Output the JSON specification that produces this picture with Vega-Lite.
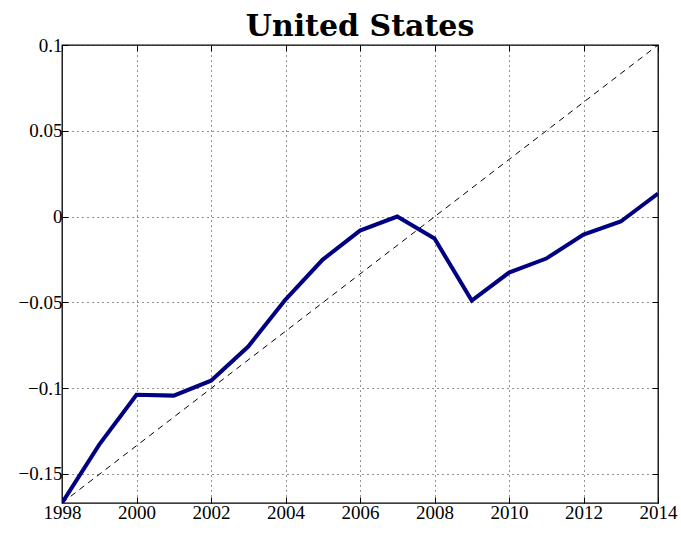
{
  "$schema": "https://vega.github.io/schema/vega-lite/v6.json",
  "width": 596,
  "height": 458,
  "autosize": {"type": "none"},
  "padding": {"left": 62, "top": 45, "right": 23, "bottom": 30},
  "background": "white",
  "title": {"text": "United States", "font": "DejaVu Serif", "fontSize": 30, "fontWeight": "bold", "color": "black", "offset": -6, "anchor": "middle"},
  "config": {
    "view": {"stroke": "black", "strokeWidth": 1.3},
    "axis": {"labelFont": "Liberation Serif", "labelFontSize": 19, "labelColor": "black", "tickColor": "black", "domain": false, "grid": true, "gridColor": "#222", "gridDash": [1, 4], "gridWidth": 1, "tickSize": -6, "tickWidth": 1, "title": null}
  },
  "datasets": {
    "series": [
      {"year": 1998, "value": -0.167},
      {"year": 1999, "value": -0.133},
      {"year": 2000, "value": -0.1039},
      {"year": 2001, "value": -0.1044},
      {"year": 2002, "value": -0.0957},
      {"year": 2003, "value": -0.0758},
      {"year": 2004, "value": -0.0484},
      {"year": 2005, "value": -0.0251},
      {"year": 2006, "value": -0.0082},
      {"year": 2007, "value": 0.0},
      {"year": 2008, "value": -0.0128},
      {"year": 2009, "value": -0.049},
      {"year": 2010, "value": -0.0327},
      {"year": 2011, "value": -0.0245},
      {"year": 2012, "value": -0.0105},
      {"year": 2013, "value": -0.0029},
      {"year": 2014, "value": 0.0134}
    ],
    "trend": [
      {"year": 1998, "value": -0.167},
      {"year": 2014, "value": 0.1}
    ]
  },
  "layer": [
    {
      "data": {"name": "trend"},
      "mark": {"type": "line", "color": "black", "strokeWidth": 1, "strokeDash": [6, 5], "clip": true},
      "encoding": {
        "x": {"field": "year", "type": "quantitative", "scale": {"domain": [1998, 2014], "nice": false, "zero": false},
              "axis": {"orient": "bottom", "values": [1998, 2000, 2002, 2004, 2006, 2008, 2010, 2012, 2014], "format": "d", "labelPadding": 6, "labelFlush": false}},
        "y": {"field": "value", "type": "quantitative", "scale": {"domain": [-0.167, 0.1], "nice": false, "zero": false},
              "axis": {"orient": "left", "values": [-0.15, -0.1, -0.05, 0, 0.05, 0.1], "format": ".2~f", "labelPadding": 6, "labelFlush": false}}
      }
    },
    {
      "data": {"name": "series"},
      "mark": {"type": "line", "color": "#000080", "strokeWidth": 4, "clip": true},
      "encoding": {
        "x": {"field": "year", "type": "quantitative", "axis": null},
        "y": {"field": "value", "type": "quantitative", "axis": null}
      }
    },
    {
      "data": {"name": "trend"},
      "mark": {"type": "point", "opacity": 0},
      "encoding": {
        "x": {"field": "year", "type": "quantitative", "axis": {"orient": "top", "values": [1998, 2000, 2002, 2004, 2006, 2008, 2010, 2012, 2014], "labels": false, "grid": false}},
        "y": {"field": "value", "type": "quantitative", "axis": {"orient": "right", "values": [-0.15, -0.1, -0.05, 0, 0.05, 0.1], "labels": false, "grid": false}}
      }
    }
  ],
  "resolve": {"axis": {"x": "independent", "y": "independent"}}
}
